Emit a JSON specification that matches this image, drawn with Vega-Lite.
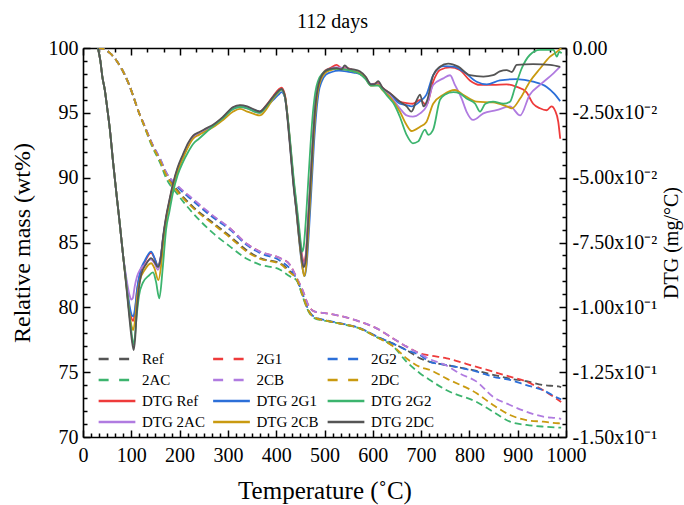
{
"$schema": "https://vega.github.io/schema/vega-lite/v6.json",
"width": 483, "height": 389,
"autosize": "none",
"padding": {"left": 83, "top": 48, "right": 118, "bottom": 68},
"background": "white",
"title": {"text": "112 days", "font": "Liberation Serif", "fontSize": 20, "fontWeight": "normal", "color": "black", "offset": 6, "dx": 8, "frame": "group", "anchor": "middle"},
"config": {"view": {"stroke": null}, "font": "Liberation Serif"},
"datasets": {
"tg": [
{"s":"Ref","T":30,"m":100},{"s":"Ref","T":45,"m":99.9},{"s":"Ref","T":56,"m":99.6},{"s":"Ref","T":68,"m":99.1},{"s":"Ref","T":80,"m":98.4},{"s":"Ref","T":94,"m":97.3},{"s":"Ref","T":104,"m":96.3},{"s":"Ref","T":114,"m":95.2},{"s":"Ref","T":128,"m":93.9},{"s":"Ref","T":142,"m":92.65},{"s":"Ref","T":159,"m":91.4},{"s":"Ref","T":173,"m":90.2},{"s":"Ref","T":194,"m":89.1},{"s":"Ref","T":228,"m":87.75},{"s":"Ref","T":270,"m":86.5},{"s":"Ref","T":304,"m":85.5},{"s":"Ref","T":339,"m":84.4},{"s":"Ref","T":366,"m":83.8},{"s":"Ref","T":408,"m":83.4},{"s":"Ref","T":428,"m":82.8},{"s":"Ref","T":442,"m":82.2},{"s":"Ref","T":456,"m":80.8},{"s":"Ref","T":466,"m":79.8},{"s":"Ref","T":480,"m":79.2},{"s":"Ref","T":504,"m":78.97},{"s":"Ref","T":539,"m":78.7},{"s":"Ref","T":573,"m":78.38},{"s":"Ref","T":608,"m":77.74},{"s":"Ref","T":642,"m":77.2},{"s":"Ref","T":670,"m":76.7},{"s":"Ref","T":698,"m":76.06},{"s":"Ref","T":718,"m":75.8},{"s":"Ref","T":753,"m":75.55},{"s":"Ref","T":815,"m":75.1},{"s":"Ref","T":849,"m":74.8},{"s":"Ref","T":884,"m":74.5},{"s":"Ref","T":918,"m":74.3},{"s":"Ref","T":953,"m":74.0},{"s":"Ref","T":984,"m":73.9},{"s":"Ref","T":990,"m":73.85},
{"s":"2G1","T":30,"m":100},{"s":"2G1","T":45,"m":99.9},{"s":"2G1","T":56,"m":99.6},{"s":"2G1","T":68,"m":99.1},{"s":"2G1","T":80,"m":98.4},{"s":"2G1","T":94,"m":97.3},{"s":"2G1","T":104,"m":96.3},{"s":"2G1","T":114,"m":95.2},{"s":"2G1","T":128,"m":93.95},{"s":"2G1","T":142,"m":92.7},{"s":"2G1","T":159,"m":91.45},{"s":"2G1","T":173,"m":90.3},{"s":"2G1","T":194,"m":89.4},{"s":"2G1","T":228,"m":88.3},{"s":"2G1","T":270,"m":87.0},{"s":"2G1","T":304,"m":86.1},{"s":"2G1","T":339,"m":84.9},{"s":"2G1","T":366,"m":84.3},{"s":"2G1","T":408,"m":83.8},{"s":"2G1","T":428,"m":83.3},{"s":"2G1","T":442,"m":82.3},{"s":"2G1","T":456,"m":81.2},{"s":"2G1","T":466,"m":80.2},{"s":"2G1","T":480,"m":79.67},{"s":"2G1","T":504,"m":79.54},{"s":"2G1","T":539,"m":79.28},{"s":"2G1","T":573,"m":78.9},{"s":"2G1","T":608,"m":78.38},{"s":"2G1","T":642,"m":77.6},{"s":"2G1","T":670,"m":76.97},{"s":"2G1","T":698,"m":76.45},{"s":"2G1","T":718,"m":76.3},{"s":"2G1","T":753,"m":76.07},{"s":"2G1","T":815,"m":75.4},{"s":"2G1","T":849,"m":75.04},{"s":"2G1","T":884,"m":74.65},{"s":"2G1","T":918,"m":74.27},{"s":"2G1","T":953,"m":73.6},{"s":"2G1","T":984,"m":72.85},{"s":"2G1","T":990,"m":72.7},
{"s":"2G2","T":30,"m":100},{"s":"2G2","T":45,"m":99.9},{"s":"2G2","T":56,"m":99.6},{"s":"2G2","T":68,"m":99.1},{"s":"2G2","T":80,"m":98.4},{"s":"2G2","T":94,"m":97.3},{"s":"2G2","T":104,"m":96.3},{"s":"2G2","T":114,"m":95.2},{"s":"2G2","T":128,"m":93.95},{"s":"2G2","T":142,"m":92.7},{"s":"2G2","T":159,"m":91.5},{"s":"2G2","T":173,"m":90.35},{"s":"2G2","T":194,"m":89.35},{"s":"2G2","T":228,"m":88.2},{"s":"2G2","T":270,"m":86.9},{"s":"2G2","T":304,"m":86.0},{"s":"2G2","T":339,"m":84.8},{"s":"2G2","T":366,"m":84.2},{"s":"2G2","T":408,"m":83.6},{"s":"2G2","T":428,"m":83.0},{"s":"2G2","T":442,"m":82.2},{"s":"2G2","T":456,"m":80.9},{"s":"2G2","T":466,"m":79.85},{"s":"2G2","T":480,"m":79.25},{"s":"2G2","T":504,"m":79.0},{"s":"2G2","T":539,"m":78.72},{"s":"2G2","T":573,"m":78.4},{"s":"2G2","T":608,"m":77.76},{"s":"2G2","T":642,"m":77.2},{"s":"2G2","T":670,"m":76.7},{"s":"2G2","T":698,"m":76.3},{"s":"2G2","T":718,"m":75.8},{"s":"2G2","T":753,"m":75.55},{"s":"2G2","T":815,"m":75.04},{"s":"2G2","T":849,"m":74.65},{"s":"2G2","T":884,"m":74.4},{"s":"2G2","T":918,"m":74.0},{"s":"2G2","T":953,"m":73.6},{"s":"2G2","T":984,"m":73.0},{"s":"2G2","T":990,"m":72.9},
{"s":"2AC","T":30,"m":100},{"s":"2AC","T":45,"m":99.9},{"s":"2AC","T":56,"m":99.6},{"s":"2AC","T":68,"m":99.1},{"s":"2AC","T":80,"m":98.4},{"s":"2AC","T":94,"m":97.3},{"s":"2AC","T":104,"m":96.3},{"s":"2AC","T":114,"m":95.2},{"s":"2AC","T":128,"m":93.85},{"s":"2AC","T":142,"m":92.5},{"s":"2AC","T":159,"m":91.2},{"s":"2AC","T":173,"m":89.9},{"s":"2AC","T":194,"m":88.8},{"s":"2AC","T":228,"m":87.25},{"s":"2AC","T":270,"m":85.7},{"s":"2AC","T":304,"m":84.7},{"s":"2AC","T":339,"m":83.75},{"s":"2AC","T":366,"m":83.3},{"s":"2AC","T":408,"m":82.9},{"s":"2AC","T":428,"m":82.4},{"s":"2AC","T":442,"m":82.1},{"s":"2AC","T":456,"m":80.7},{"s":"2AC","T":466,"m":79.75},{"s":"2AC","T":480,"m":79.15},{"s":"2AC","T":504,"m":78.95},{"s":"2AC","T":539,"m":78.68},{"s":"2AC","T":573,"m":78.36},{"s":"2AC","T":608,"m":77.7},{"s":"2AC","T":642,"m":77.0},{"s":"2AC","T":670,"m":75.8},{"s":"2AC","T":698,"m":74.9},{"s":"2AC","T":718,"m":74.4},{"s":"2AC","T":753,"m":73.6},{"s":"2AC","T":815,"m":72.7},{"s":"2AC","T":849,"m":71.95},{"s":"2AC","T":884,"m":71.18},{"s":"2AC","T":918,"m":70.93},{"s":"2AC","T":953,"m":70.8},{"s":"2AC","T":984,"m":70.73},{"s":"2AC","T":990,"m":70.72},
{"s":"2CB","T":30,"m":100},{"s":"2CB","T":45,"m":99.9},{"s":"2CB","T":56,"m":99.6},{"s":"2CB","T":68,"m":99.1},{"s":"2CB","T":80,"m":98.4},{"s":"2CB","T":94,"m":97.3},{"s":"2CB","T":104,"m":96.3},{"s":"2CB","T":114,"m":95.2},{"s":"2CB","T":128,"m":93.95},{"s":"2CB","T":142,"m":92.7},{"s":"2CB","T":159,"m":91.5},{"s":"2CB","T":173,"m":90.35},{"s":"2CB","T":194,"m":89.45},{"s":"2CB","T":228,"m":88.35},{"s":"2CB","T":270,"m":87.05},{"s":"2CB","T":304,"m":86.1},{"s":"2CB","T":339,"m":84.9},{"s":"2CB","T":366,"m":84.3},{"s":"2CB","T":408,"m":83.8},{"s":"2CB","T":428,"m":83.3},{"s":"2CB","T":442,"m":82.3},{"s":"2CB","T":456,"m":81.2},{"s":"2CB","T":466,"m":80.2},{"s":"2CB","T":480,"m":79.67},{"s":"2CB","T":504,"m":79.54},{"s":"2CB","T":539,"m":79.28},{"s":"2CB","T":573,"m":78.9},{"s":"2CB","T":608,"m":78.38},{"s":"2CB","T":642,"m":77.6},{"s":"2CB","T":670,"m":76.97},{"s":"2CB","T":698,"m":76.4},{"s":"2CB","T":718,"m":76.0},{"s":"2CB","T":753,"m":75.5},{"s":"2CB","T":780,"m":74.9},{"s":"2CB","T":815,"m":74.27},{"s":"2CB","T":849,"m":73.1},{"s":"2CB","T":884,"m":72.47},{"s":"2CB","T":918,"m":71.95},{"s":"2CB","T":953,"m":71.57},{"s":"2CB","T":984,"m":71.44},{"s":"2CB","T":990,"m":71.4},
{"s":"2DC","T":30,"m":100},{"s":"2DC","T":45,"m":99.9},{"s":"2DC","T":56,"m":99.6},{"s":"2DC","T":68,"m":99.1},{"s":"2DC","T":80,"m":98.4},{"s":"2DC","T":94,"m":97.3},{"s":"2DC","T":104,"m":96.3},{"s":"2DC","T":114,"m":95.2},{"s":"2DC","T":128,"m":93.9},{"s":"2DC","T":142,"m":92.6},{"s":"2DC","T":159,"m":91.35},{"s":"2DC","T":173,"m":90.15},{"s":"2DC","T":194,"m":89.0},{"s":"2DC","T":228,"m":87.65},{"s":"2DC","T":270,"m":86.4},{"s":"2DC","T":304,"m":85.4},{"s":"2DC","T":339,"m":84.3},{"s":"2DC","T":366,"m":83.75},{"s":"2DC","T":408,"m":83.35},{"s":"2DC","T":428,"m":82.7},{"s":"2DC","T":442,"m":82.2},{"s":"2DC","T":456,"m":80.8},{"s":"2DC","T":466,"m":79.8},{"s":"2DC","T":480,"m":79.2},{"s":"2DC","T":504,"m":78.97},{"s":"2DC","T":539,"m":78.7},{"s":"2DC","T":573,"m":78.38},{"s":"2DC","T":608,"m":77.7},{"s":"2DC","T":642,"m":77.0},{"s":"2DC","T":670,"m":76.06},{"s":"2DC","T":698,"m":75.4},{"s":"2DC","T":718,"m":75.17},{"s":"2DC","T":753,"m":74.5},{"s":"2DC","T":815,"m":73.37},{"s":"2DC","T":849,"m":72.47},{"s":"2DC","T":884,"m":71.7},{"s":"2DC","T":918,"m":71.3},{"s":"2DC","T":953,"m":71.18},{"s":"2DC","T":984,"m":71.06},{"s":"2DC","T":990,"m":71.05}
],
"dtg": [
{"s":"DTG Ref","T":31,"d":0},{"s":"DTG Ref","T":36,"d":-0.005},{"s":"DTG Ref","T":40,"d":-0.011},{"s":"DTG Ref","T":45,"d":-0.016},{"s":"DTG Ref","T":50,"d":-0.023},{"s":"DTG Ref","T":56,"d":-0.032},{"s":"DTG Ref","T":62,"d":-0.0435},{"s":"DTG Ref","T":70,"d":-0.0575},{"s":"DTG Ref","T":76,"d":-0.0675},{"s":"DTG Ref","T":83,"d":-0.08},{"s":"DTG Ref","T":90,"d":-0.091},{"s":"DTG Ref","T":96,"d":-0.1},{"s":"DTG Ref","T":101,"d":-0.1045},{"s":"DTG Ref","T":104,"d":-0.10525},{"s":"DTG Ref","T":108,"d":-0.101},{"s":"DTG Ref","T":112,"d":-0.0935},{"s":"DTG Ref","T":118,"d":-0.087},{"s":"DTG Ref","T":128,"d":-0.0825},{"s":"DTG Ref","T":141,"d":-0.079},{"s":"DTG Ref","T":148,"d":-0.081},{"s":"DTG Ref","T":155,"d":-0.084},{"s":"DTG Ref","T":161,"d":-0.0805},{"s":"DTG Ref","T":166,"d":-0.073},{"s":"DTG Ref","T":172,"d":-0.0655},{"s":"DTG Ref","T":179,"d":-0.059},{"s":"DTG Ref","T":186,"d":-0.053},{"s":"DTG Ref","T":196,"d":-0.0465},{"s":"DTG Ref","T":207,"d":-0.0415},{"s":"DTG Ref","T":218,"d":-0.037},{"s":"DTG Ref","T":228,"d":-0.034},{"s":"DTG Ref","T":240,"d":-0.03275},{"s":"DTG Ref","T":255,"d":-0.03125},{"s":"DTG Ref","T":270,"d":-0.02975},{"s":"DTG Ref","T":290,"d":-0.02675},{"s":"DTG Ref","T":311,"d":-0.023},{"s":"DTG Ref","T":325,"d":-0.02225},{"s":"DTG Ref","T":340,"d":-0.02275},{"s":"DTG Ref","T":355,"d":-0.024},{"s":"DTG Ref","T":366,"d":-0.0245},{"s":"DTG Ref","T":380,"d":-0.022},{"s":"DTG Ref","T":394,"d":-0.0185},{"s":"DTG Ref","T":405,"d":-0.016},{"s":"DTG Ref","T":411,"d":-0.01525},{"s":"DTG Ref","T":418,"d":-0.018},{"s":"DTG Ref","T":424,"d":-0.027},{"s":"DTG Ref","T":430,"d":-0.039},{"s":"DTG Ref","T":436,"d":-0.051},{"s":"DTG Ref","T":442,"d":-0.061},{"s":"DTG Ref","T":448,"d":-0.072},{"s":"DTG Ref","T":454,"d":-0.0805},{"s":"DTG Ref","T":457,"d":-0.0825},{"s":"DTG Ref","T":461,"d":-0.08},{"s":"DTG Ref","T":466,"d":-0.066},{"s":"DTG Ref","T":471,"d":-0.0505},{"s":"DTG Ref","T":476,"d":-0.035},{"s":"DTG Ref","T":481,"d":-0.022},{"s":"DTG Ref","T":486,"d":-0.01525},{"s":"DTG Ref","T":492,"d":-0.01125},{"s":"DTG Ref","T":501,"d":-0.00875},{"s":"DTG Ref","T":512,"d":-0.00775},{"s":"DTG Ref","T":525,"d":-0.0065},{"s":"DTG Ref","T":535,"d":-0.00775},{"s":"DTG Ref","T":542,"d":-0.0075},{"s":"DTG Ref","T":560,"d":-0.0085},{"s":"DTG Ref","T":573,"d":-0.00925},{"s":"DTG Ref","T":585,"d":-0.01125},{"s":"DTG Ref","T":596,"d":-0.014},{"s":"DTG Ref","T":611,"d":-0.0135},{"s":"DTG Ref","T":620,"d":-0.01525},{"s":"DTG Ref","T":636,"d":-0.0175},{"s":"DTG Ref","T":656,"d":-0.0207},{"s":"DTG Ref","T":670,"d":-0.02125},{"s":"DTG Ref","T":683,"d":-0.0215},{"s":"DTG Ref","T":698,"d":-0.02},{"s":"DTG Ref","T":711,"d":-0.022},{"s":"DTG Ref","T":725,"d":-0.013},{"s":"DTG Ref","T":739,"d":-0.0085},{"s":"DTG Ref","T":760,"d":-0.0075},{"s":"DTG Ref","T":780,"d":-0.0085},{"s":"DTG Ref","T":801,"d":-0.0125},{"s":"DTG Ref","T":822,"d":-0.01425},{"s":"DTG Ref","T":849,"d":-0.01425},{"s":"DTG Ref","T":877,"d":-0.014},{"s":"DTG Ref","T":898,"d":-0.015},{"s":"DTG Ref","T":918,"d":-0.017},{"s":"DTG Ref","T":932,"d":-0.0215},{"s":"DTG Ref","T":946,"d":-0.02325},{"s":"DTG Ref","T":960,"d":-0.024},{"s":"DTG Ref","T":970,"d":-0.0225},{"s":"DTG Ref","T":977,"d":-0.024},{"s":"DTG Ref","T":984,"d":-0.0285},{"s":"DTG Ref","T":988,"d":-0.035},
{"s":"DTG 2G1","T":31,"d":0},{"s":"DTG 2G1","T":36,"d":-0.005},{"s":"DTG 2G1","T":40,"d":-0.011},{"s":"DTG 2G1","T":45,"d":-0.016},{"s":"DTG 2G1","T":50,"d":-0.023},{"s":"DTG 2G1","T":56,"d":-0.032},{"s":"DTG 2G1","T":62,"d":-0.0435},{"s":"DTG 2G1","T":70,"d":-0.0575},{"s":"DTG 2G1","T":76,"d":-0.0675},{"s":"DTG 2G1","T":83,"d":-0.08},{"s":"DTG 2G1","T":90,"d":-0.0905},{"s":"DTG 2G1","T":96,"d":-0.099},{"s":"DTG 2G1","T":101,"d":-0.103},{"s":"DTG 2G1","T":104,"d":-0.1035},{"s":"DTG 2G1","T":108,"d":-0.1},{"s":"DTG 2G1","T":112,"d":-0.093},{"s":"DTG 2G1","T":118,"d":-0.0865},{"s":"DTG 2G1","T":128,"d":-0.082},{"s":"DTG 2G1","T":141,"d":-0.0785},{"s":"DTG 2G1","T":148,"d":-0.081},{"s":"DTG 2G1","T":155,"d":-0.084},{"s":"DTG 2G1","T":161,"d":-0.0805},{"s":"DTG 2G1","T":166,"d":-0.073},{"s":"DTG 2G1","T":172,"d":-0.066},{"s":"DTG 2G1","T":179,"d":-0.0595},{"s":"DTG 2G1","T":186,"d":-0.0535},{"s":"DTG 2G1","T":196,"d":-0.047},{"s":"DTG 2G1","T":207,"d":-0.042},{"s":"DTG 2G1","T":218,"d":-0.0375},{"s":"DTG 2G1","T":228,"d":-0.0345},{"s":"DTG 2G1","T":240,"d":-0.033},{"s":"DTG 2G1","T":255,"d":-0.0315},{"s":"DTG 2G1","T":270,"d":-0.03},{"s":"DTG 2G1","T":290,"d":-0.027},{"s":"DTG 2G1","T":311,"d":-0.02325},{"s":"DTG 2G1","T":325,"d":-0.0225},{"s":"DTG 2G1","T":340,"d":-0.023},{"s":"DTG 2G1","T":355,"d":-0.024},{"s":"DTG 2G1","T":366,"d":-0.0245},{"s":"DTG 2G1","T":380,"d":-0.0225},{"s":"DTG 2G1","T":394,"d":-0.02},{"s":"DTG 2G1","T":405,"d":-0.018},{"s":"DTG 2G1","T":411,"d":-0.017},{"s":"DTG 2G1","T":418,"d":-0.019},{"s":"DTG 2G1","T":424,"d":-0.0275},{"s":"DTG 2G1","T":430,"d":-0.04},{"s":"DTG 2G1","T":436,"d":-0.0525},{"s":"DTG 2G1","T":442,"d":-0.0635},{"s":"DTG 2G1","T":448,"d":-0.075},{"s":"DTG 2G1","T":454,"d":-0.0845},{"s":"DTG 2G1","T":459,"d":-0.088},{"s":"DTG 2G1","T":463,"d":-0.0835},{"s":"DTG 2G1","T":468,"d":-0.07},{"s":"DTG 2G1","T":473,"d":-0.054},{"s":"DTG 2G1","T":478,"d":-0.0375},{"s":"DTG 2G1","T":483,"d":-0.025},{"s":"DTG 2G1","T":488,"d":-0.017},{"s":"DTG 2G1","T":494,"d":-0.013},{"s":"DTG 2G1","T":503,"d":-0.01025},{"s":"DTG 2G1","T":515,"d":-0.00925},{"s":"DTG 2G1","T":530,"d":-0.00875},{"s":"DTG 2G1","T":545,"d":-0.009},{"s":"DTG 2G1","T":560,"d":-0.0095},{"s":"DTG 2G1","T":573,"d":-0.01},{"s":"DTG 2G1","T":585,"d":-0.0115},{"s":"DTG 2G1","T":596,"d":-0.014},{"s":"DTG 2G1","T":611,"d":-0.014},{"s":"DTG 2G1","T":620,"d":-0.0155},{"s":"DTG 2G1","T":636,"d":-0.01775},{"s":"DTG 2G1","T":656,"d":-0.0215},{"s":"DTG 2G1","T":670,"d":-0.022},{"s":"DTG 2G1","T":680,"d":-0.0225},{"s":"DTG 2G1","T":698,"d":-0.0205},{"s":"DTG 2G1","T":711,"d":-0.018},{"s":"DTG 2G1","T":725,"d":-0.0105},{"s":"DTG 2G1","T":746,"d":-0.007},{"s":"DTG 2G1","T":767,"d":-0.0072},{"s":"DTG 2G1","T":787,"d":-0.009},{"s":"DTG 2G1","T":815,"d":-0.013},{"s":"DTG 2G1","T":836,"d":-0.014},{"s":"DTG 2G1","T":863,"d":-0.0125},{"s":"DTG 2G1","T":898,"d":-0.012},{"s":"DTG 2G1","T":932,"d":-0.013},{"s":"DTG 2G1","T":960,"d":-0.015},{"s":"DTG 2G1","T":975,"d":-0.0175},{"s":"DTG 2G1","T":988,"d":-0.0205},
{"s":"DTG 2AC","T":31,"d":0},{"s":"DTG 2AC","T":36,"d":-0.005},{"s":"DTG 2AC","T":40,"d":-0.011},{"s":"DTG 2AC","T":45,"d":-0.016},{"s":"DTG 2AC","T":50,"d":-0.023},{"s":"DTG 2AC","T":56,"d":-0.032},{"s":"DTG 2AC","T":62,"d":-0.0435},{"s":"DTG 2AC","T":70,"d":-0.0575},{"s":"DTG 2AC","T":76,"d":-0.0675},{"s":"DTG 2AC","T":83,"d":-0.08},{"s":"DTG 2AC","T":90,"d":-0.089},{"s":"DTG 2AC","T":96,"d":-0.095},{"s":"DTG 2AC","T":100,"d":-0.097},{"s":"DTG 2AC","T":103,"d":-0.0965},{"s":"DTG 2AC","T":107,"d":-0.092},{"s":"DTG 2AC","T":112,"d":-0.088},{"s":"DTG 2AC","T":118,"d":-0.0855},{"s":"DTG 2AC","T":128,"d":-0.0835},{"s":"DTG 2AC","T":140,"d":-0.0815},{"s":"DTG 2AC","T":148,"d":-0.083},{"s":"DTG 2AC","T":155,"d":-0.0855},{"s":"DTG 2AC","T":161,"d":-0.082},{"s":"DTG 2AC","T":166,"d":-0.074},{"s":"DTG 2AC","T":172,"d":-0.066},{"s":"DTG 2AC","T":179,"d":-0.0595},{"s":"DTG 2AC","T":186,"d":-0.0535},{"s":"DTG 2AC","T":196,"d":-0.047},{"s":"DTG 2AC","T":207,"d":-0.042},{"s":"DTG 2AC","T":218,"d":-0.0375},{"s":"DTG 2AC","T":228,"d":-0.0345},{"s":"DTG 2AC","T":240,"d":-0.033},{"s":"DTG 2AC","T":255,"d":-0.0315},{"s":"DTG 2AC","T":270,"d":-0.03},{"s":"DTG 2AC","T":290,"d":-0.027},{"s":"DTG 2AC","T":311,"d":-0.0235},{"s":"DTG 2AC","T":325,"d":-0.02275},{"s":"DTG 2AC","T":340,"d":-0.02325},{"s":"DTG 2AC","T":355,"d":-0.0245},{"s":"DTG 2AC","T":366,"d":-0.025},{"s":"DTG 2AC","T":380,"d":-0.0225},{"s":"DTG 2AC","T":394,"d":-0.019},{"s":"DTG 2AC","T":405,"d":-0.01675},{"s":"DTG 2AC","T":411,"d":-0.016},{"s":"DTG 2AC","T":418,"d":-0.019},{"s":"DTG 2AC","T":424,"d":-0.028},{"s":"DTG 2AC","T":430,"d":-0.04},{"s":"DTG 2AC","T":436,"d":-0.0525},{"s":"DTG 2AC","T":442,"d":-0.0625},{"s":"DTG 2AC","T":448,"d":-0.073},{"s":"DTG 2AC","T":454,"d":-0.0815},{"s":"DTG 2AC","T":457,"d":-0.0835},{"s":"DTG 2AC","T":461,"d":-0.081},{"s":"DTG 2AC","T":466,"d":-0.067},{"s":"DTG 2AC","T":471,"d":-0.0515},{"s":"DTG 2AC","T":476,"d":-0.0355},{"s":"DTG 2AC","T":481,"d":-0.0225},{"s":"DTG 2AC","T":486,"d":-0.0155},{"s":"DTG 2AC","T":492,"d":-0.0115},{"s":"DTG 2AC","T":501,"d":-0.009},{"s":"DTG 2AC","T":512,"d":-0.008},{"s":"DTG 2AC","T":525,"d":-0.0075},{"s":"DTG 2AC","T":542,"d":-0.00775},{"s":"DTG 2AC","T":560,"d":-0.0085},{"s":"DTG 2AC","T":573,"d":-0.0095},{"s":"DTG 2AC","T":585,"d":-0.0115},{"s":"DTG 2AC","T":596,"d":-0.01425},{"s":"DTG 2AC","T":611,"d":-0.014},{"s":"DTG 2AC","T":620,"d":-0.01575},{"s":"DTG 2AC","T":636,"d":-0.0185},{"s":"DTG 2AC","T":656,"d":-0.02325},{"s":"DTG 2AC","T":670,"d":-0.026},{"s":"DTG 2AC","T":683,"d":-0.0265},{"s":"DTG 2AC","T":698,"d":-0.0252},{"s":"DTG 2AC","T":711,"d":-0.0225},{"s":"DTG 2AC","T":725,"d":-0.01425},{"s":"DTG 2AC","T":746,"d":-0.0117},{"s":"DTG 2AC","T":760,"d":-0.0105},{"s":"DTG 2AC","T":770,"d":-0.01425},{"s":"DTG 2AC","T":784,"d":-0.0195},{"s":"DTG 2AC","T":794,"d":-0.0245},{"s":"DTG 2AC","T":808,"d":-0.02775},{"s":"DTG 2AC","T":829,"d":-0.0252},{"s":"DTG 2AC","T":856,"d":-0.024},{"s":"DTG 2AC","T":884,"d":-0.0225},{"s":"DTG 2AC","T":905,"d":-0.026},{"s":"DTG 2AC","T":925,"d":-0.018},{"s":"DTG 2AC","T":946,"d":-0.01425},{"s":"DTG 2AC","T":974,"d":-0.00975},{"s":"DTG 2AC","T":988,"d":-0.0072},
{"s":"DTG 2CB","T":31,"d":0},{"s":"DTG 2CB","T":36,"d":-0.005},{"s":"DTG 2CB","T":40,"d":-0.011},{"s":"DTG 2CB","T":45,"d":-0.016},{"s":"DTG 2CB","T":50,"d":-0.023},{"s":"DTG 2CB","T":56,"d":-0.032},{"s":"DTG 2CB","T":62,"d":-0.0435},{"s":"DTG 2CB","T":70,"d":-0.0575},{"s":"DTG 2CB","T":76,"d":-0.0675},{"s":"DTG 2CB","T":83,"d":-0.08},{"s":"DTG 2CB","T":90,"d":-0.092},{"s":"DTG 2CB","T":96,"d":-0.102},{"s":"DTG 2CB","T":101,"d":-0.1075},{"s":"DTG 2CB","T":104,"d":-0.10875},{"s":"DTG 2CB","T":108,"d":-0.1045},{"s":"DTG 2CB","T":112,"d":-0.096},{"s":"DTG 2CB","T":118,"d":-0.0895},{"s":"DTG 2CB","T":128,"d":-0.0855},{"s":"DTG 2CB","T":141,"d":-0.083},{"s":"DTG 2CB","T":148,"d":-0.085},{"s":"DTG 2CB","T":156,"d":-0.0895},{"s":"DTG 2CB","T":162,"d":-0.0835},{"s":"DTG 2CB","T":167,"d":-0.0735},{"s":"DTG 2CB","T":172,"d":-0.0665},{"s":"DTG 2CB","T":179,"d":-0.06},{"s":"DTG 2CB","T":186,"d":-0.054},{"s":"DTG 2CB","T":196,"d":-0.0475},{"s":"DTG 2CB","T":207,"d":-0.0425},{"s":"DTG 2CB","T":218,"d":-0.038},{"s":"DTG 2CB","T":228,"d":-0.035},{"s":"DTG 2CB","T":240,"d":-0.0335},{"s":"DTG 2CB","T":255,"d":-0.032},{"s":"DTG 2CB","T":270,"d":-0.0305},{"s":"DTG 2CB","T":290,"d":-0.02775},{"s":"DTG 2CB","T":311,"d":-0.0245},{"s":"DTG 2CB","T":325,"d":-0.0235},{"s":"DTG 2CB","T":340,"d":-0.0245},{"s":"DTG 2CB","T":355,"d":-0.0255},{"s":"DTG 2CB","T":366,"d":-0.026},{"s":"DTG 2CB","T":380,"d":-0.0235},{"s":"DTG 2CB","T":394,"d":-0.0195},{"s":"DTG 2CB","T":405,"d":-0.017},{"s":"DTG 2CB","T":411,"d":-0.016},{"s":"DTG 2CB","T":418,"d":-0.0185},{"s":"DTG 2CB","T":424,"d":-0.0275},{"s":"DTG 2CB","T":430,"d":-0.0395},{"s":"DTG 2CB","T":436,"d":-0.052},{"s":"DTG 2CB","T":442,"d":-0.063},{"s":"DTG 2CB","T":448,"d":-0.0745},{"s":"DTG 2CB","T":454,"d":-0.084},{"s":"DTG 2CB","T":458,"d":-0.088},{"s":"DTG 2CB","T":462,"d":-0.084},{"s":"DTG 2CB","T":467,"d":-0.069},{"s":"DTG 2CB","T":472,"d":-0.0525},{"s":"DTG 2CB","T":477,"d":-0.036},{"s":"DTG 2CB","T":482,"d":-0.0235},{"s":"DTG 2CB","T":487,"d":-0.016},{"s":"DTG 2CB","T":493,"d":-0.012},{"s":"DTG 2CB","T":502,"d":-0.0095},{"s":"DTG 2CB","T":513,"d":-0.0085},{"s":"DTG 2CB","T":525,"d":-0.008},{"s":"DTG 2CB","T":542,"d":-0.00825},{"s":"DTG 2CB","T":560,"d":-0.009},{"s":"DTG 2CB","T":573,"d":-0.00975},{"s":"DTG 2CB","T":585,"d":-0.01175},{"s":"DTG 2CB","T":596,"d":-0.0145},{"s":"DTG 2CB","T":611,"d":-0.01425},{"s":"DTG 2CB","T":620,"d":-0.01625},{"s":"DTG 2CB","T":636,"d":-0.019},{"s":"DTG 2CB","T":656,"d":-0.0245},{"s":"DTG 2CB","T":670,"d":-0.0297},{"s":"DTG 2CB","T":680,"d":-0.032},{"s":"DTG 2CB","T":698,"d":-0.03035},{"s":"DTG 2CB","T":711,"d":-0.0285},{"s":"DTG 2CB","T":725,"d":-0.0215},{"s":"DTG 2CB","T":746,"d":-0.018},{"s":"DTG 2CB","T":770,"d":-0.0162},{"s":"DTG 2CB","T":787,"d":-0.018},{"s":"DTG 2CB","T":815,"d":-0.0207},{"s":"DTG 2CB","T":849,"d":-0.021},{"s":"DTG 2CB","T":877,"d":-0.0225},{"s":"DTG 2CB","T":888,"d":-0.02325},{"s":"DTG 2CB","T":905,"d":-0.0195},{"s":"DTG 2CB","T":925,"d":-0.013},{"s":"DTG 2CB","T":946,"d":-0.008},{"s":"DTG 2CB","T":967,"d":-0.00335},{"s":"DTG 2CB","T":981,"d":-0.0015},{"s":"DTG 2CB","T":990,"d":0},
{"s":"DTG 2G2","T":31,"d":0},{"s":"DTG 2G2","T":36,"d":-0.005},{"s":"DTG 2G2","T":40,"d":-0.011},{"s":"DTG 2G2","T":45,"d":-0.016},{"s":"DTG 2G2","T":50,"d":-0.023},{"s":"DTG 2G2","T":56,"d":-0.032},{"s":"DTG 2G2","T":62,"d":-0.0435},{"s":"DTG 2G2","T":70,"d":-0.0575},{"s":"DTG 2G2","T":76,"d":-0.0675},{"s":"DTG 2G2","T":83,"d":-0.08},{"s":"DTG 2G2","T":90,"d":-0.0915},{"s":"DTG 2G2","T":96,"d":-0.1025},{"s":"DTG 2G2","T":101,"d":-0.1105},{"s":"DTG 2G2","T":104,"d":-0.1145},{"s":"DTG 2G2","T":107,"d":-0.112},{"s":"DTG 2G2","T":111,"d":-0.1035},{"s":"DTG 2G2","T":116,"d":-0.0955},{"s":"DTG 2G2","T":124,"d":-0.0905},{"s":"DTG 2G2","T":135,"d":-0.088},{"s":"DTG 2G2","T":145,"d":-0.0865},{"s":"DTG 2G2","T":151,"d":-0.09},{"s":"DTG 2G2","T":158,"d":-0.0965},{"s":"DTG 2G2","T":165,"d":-0.085},{"s":"DTG 2G2","T":172,"d":-0.07},{"s":"DTG 2G2","T":179,"d":-0.063},{"s":"DTG 2G2","T":186,"d":-0.056},{"s":"DTG 2G2","T":196,"d":-0.049},{"s":"DTG 2G2","T":207,"d":-0.044},{"s":"DTG 2G2","T":218,"d":-0.04},{"s":"DTG 2G2","T":228,"d":-0.037},{"s":"DTG 2G2","T":240,"d":-0.035},{"s":"DTG 2G2","T":255,"d":-0.0325},{"s":"DTG 2G2","T":270,"d":-0.03},{"s":"DTG 2G2","T":290,"d":-0.027},{"s":"DTG 2G2","T":311,"d":-0.0235},{"s":"DTG 2G2","T":325,"d":-0.02275},{"s":"DTG 2G2","T":340,"d":-0.02325},{"s":"DTG 2G2","T":355,"d":-0.0245},{"s":"DTG 2G2","T":366,"d":-0.025},{"s":"DTG 2G2","T":380,"d":-0.0225},{"s":"DTG 2G2","T":394,"d":-0.019},{"s":"DTG 2G2","T":405,"d":-0.01675},{"s":"DTG 2G2","T":411,"d":-0.016},{"s":"DTG 2G2","T":418,"d":-0.019},{"s":"DTG 2G2","T":424,"d":-0.027},{"s":"DTG 2G2","T":430,"d":-0.038},{"s":"DTG 2G2","T":436,"d":-0.05},{"s":"DTG 2G2","T":442,"d":-0.06},{"s":"DTG 2G2","T":448,"d":-0.07},{"s":"DTG 2G2","T":452,"d":-0.077},{"s":"DTG 2G2","T":454,"d":-0.0785},{"s":"DTG 2G2","T":457,"d":-0.0765},{"s":"DTG 2G2","T":461,"d":-0.0675},{"s":"DTG 2G2","T":466,"d":-0.0525},{"s":"DTG 2G2","T":471,"d":-0.0375},{"s":"DTG 2G2","T":476,"d":-0.025},{"s":"DTG 2G2","T":481,"d":-0.017},{"s":"DTG 2G2","T":487,"d":-0.0125},{"s":"DTG 2G2","T":495,"d":-0.01},{"s":"DTG 2G2","T":505,"d":-0.0085},{"s":"DTG 2G2","T":520,"d":-0.008},{"s":"DTG 2G2","T":540,"d":-0.00825},{"s":"DTG 2G2","T":560,"d":-0.009},{"s":"DTG 2G2","T":573,"d":-0.01},{"s":"DTG 2G2","T":585,"d":-0.012},{"s":"DTG 2G2","T":596,"d":-0.0145},{"s":"DTG 2G2","T":611,"d":-0.0145},{"s":"DTG 2G2","T":620,"d":-0.016},{"s":"DTG 2G2","T":630,"d":-0.0185},{"s":"DTG 2G2","T":645,"d":-0.022},{"s":"DTG 2G2","T":656,"d":-0.0265},{"s":"DTG 2G2","T":670,"d":-0.0335},{"s":"DTG 2G2","T":683,"d":-0.03675},{"s":"DTG 2G2","T":694,"d":-0.036},{"s":"DTG 2G2","T":708,"d":-0.0315},{"s":"DTG 2G2","T":715,"d":-0.0335},{"s":"DTG 2G2","T":725,"d":-0.0315},{"s":"DTG 2G2","T":739,"d":-0.02},{"s":"DTG 2G2","T":749,"d":-0.018},{"s":"DTG 2G2","T":767,"d":-0.017},{"s":"DTG 2G2","T":780,"d":-0.0175},{"s":"DTG 2G2","T":794,"d":-0.0195},{"s":"DTG 2G2","T":812,"d":-0.0215},{"s":"DTG 2G2","T":822,"d":-0.0245},{"s":"DTG 2G2","T":833,"d":-0.0215},{"s":"DTG 2G2","T":849,"d":-0.0207},{"s":"DTG 2G2","T":870,"d":-0.0215},{"s":"DTG 2G2","T":884,"d":-0.0207},{"s":"DTG 2G2","T":894,"d":-0.0155},{"s":"DTG 2G2","T":908,"d":-0.008},{"s":"DTG 2G2","T":925,"d":-0.0027},{"s":"DTG 2G2","T":946,"d":-0.00075},{"s":"DTG 2G2","T":974,"d":-0.00075},{"s":"DTG 2G2","T":981,"d":-0.00335},{"s":"DTG 2G2","T":986,"d":-0.0015},{"s":"DTG 2G2","T":991,"d":-0.002},
{"s":"DTG 2DC","T":31,"d":0},{"s":"DTG 2DC","T":36,"d":-0.005},{"s":"DTG 2DC","T":40,"d":-0.011},{"s":"DTG 2DC","T":45,"d":-0.016},{"s":"DTG 2DC","T":50,"d":-0.023},{"s":"DTG 2DC","T":56,"d":-0.032},{"s":"DTG 2DC","T":62,"d":-0.0435},{"s":"DTG 2DC","T":70,"d":-0.0575},{"s":"DTG 2DC","T":76,"d":-0.0675},{"s":"DTG 2DC","T":83,"d":-0.08},{"s":"DTG 2DC","T":90,"d":-0.0925},{"s":"DTG 2DC","T":96,"d":-0.104},{"s":"DTG 2DC","T":101,"d":-0.1125},{"s":"DTG 2DC","T":105,"d":-0.1165},{"s":"DTG 2DC","T":108,"d":-0.112},{"s":"DTG 2DC","T":111,"d":-0.1025},{"s":"DTG 2DC","T":115,"d":-0.094},{"s":"DTG 2DC","T":121,"d":-0.087},{"s":"DTG 2DC","T":130,"d":-0.0835},{"s":"DTG 2DC","T":141,"d":-0.081},{"s":"DTG 2DC","T":148,"d":-0.0825},{"s":"DTG 2DC","T":155,"d":-0.0845},{"s":"DTG 2DC","T":161,"d":-0.081},{"s":"DTG 2DC","T":166,"d":-0.0725},{"s":"DTG 2DC","T":172,"d":-0.065},{"s":"DTG 2DC","T":179,"d":-0.0585},{"s":"DTG 2DC","T":186,"d":-0.0525},{"s":"DTG 2DC","T":196,"d":-0.046},{"s":"DTG 2DC","T":207,"d":-0.041},{"s":"DTG 2DC","T":218,"d":-0.0365},{"s":"DTG 2DC","T":228,"d":-0.03375},{"s":"DTG 2DC","T":240,"d":-0.0325},{"s":"DTG 2DC","T":255,"d":-0.031},{"s":"DTG 2DC","T":270,"d":-0.0295},{"s":"DTG 2DC","T":290,"d":-0.0265},{"s":"DTG 2DC","T":311,"d":-0.02275},{"s":"DTG 2DC","T":325,"d":-0.022},{"s":"DTG 2DC","T":340,"d":-0.0225},{"s":"DTG 2DC","T":355,"d":-0.02375},{"s":"DTG 2DC","T":366,"d":-0.0245},{"s":"DTG 2DC","T":380,"d":-0.022},{"s":"DTG 2DC","T":394,"d":-0.01875},{"s":"DTG 2DC","T":405,"d":-0.0165},{"s":"DTG 2DC","T":411,"d":-0.01575},{"s":"DTG 2DC","T":418,"d":-0.0185},{"s":"DTG 2DC","T":424,"d":-0.0285},{"s":"DTG 2DC","T":430,"d":-0.041},{"s":"DTG 2DC","T":436,"d":-0.0535},{"s":"DTG 2DC","T":442,"d":-0.063},{"s":"DTG 2DC","T":448,"d":-0.074},{"s":"DTG 2DC","T":454,"d":-0.0825},{"s":"DTG 2DC","T":457,"d":-0.0845},{"s":"DTG 2DC","T":461,"d":-0.082},{"s":"DTG 2DC","T":466,"d":-0.0675},{"s":"DTG 2DC","T":471,"d":-0.052},{"s":"DTG 2DC","T":476,"d":-0.036},{"s":"DTG 2DC","T":481,"d":-0.0225},{"s":"DTG 2DC","T":486,"d":-0.0155},{"s":"DTG 2DC","T":492,"d":-0.0115},{"s":"DTG 2DC","T":501,"d":-0.009},{"s":"DTG 2DC","T":512,"d":-0.008},{"s":"DTG 2DC","T":525,"d":-0.00775},{"s":"DTG 2DC","T":535,"d":-0.00825},{"s":"DTG 2DC","T":542,"d":-0.00675},{"s":"DTG 2DC","T":550,"d":-0.008},{"s":"DTG 2DC","T":560,"d":-0.00825},{"s":"DTG 2DC","T":573,"d":-0.009},{"s":"DTG 2DC","T":585,"d":-0.011},{"s":"DTG 2DC","T":596,"d":-0.014},{"s":"DTG 2DC","T":603,"d":-0.014},{"s":"DTG 2DC","T":611,"d":-0.01275},{"s":"DTG 2DC","T":620,"d":-0.01525},{"s":"DTG 2DC","T":636,"d":-0.0175},{"s":"DTG 2DC","T":656,"d":-0.0207},{"s":"DTG 2DC","T":670,"d":-0.0225},{"s":"DTG 2DC","T":680,"d":-0.0245},{"s":"DTG 2DC","T":691,"d":-0.02},{"s":"DTG 2DC","T":698,"d":-0.018},{"s":"DTG 2DC","T":705,"d":-0.0225},{"s":"DTG 2DC","T":712,"d":-0.0205},{"s":"DTG 2DC","T":725,"d":-0.0105},{"s":"DTG 2DC","T":739,"d":-0.0072},{"s":"DTG 2DC","T":756,"d":-0.006},{"s":"DTG 2DC","T":777,"d":-0.0072},{"s":"DTG 2DC","T":801,"d":-0.0105},{"s":"DTG 2DC","T":829,"d":-0.011},{"s":"DTG 2DC","T":849,"d":-0.0105},{"s":"DTG 2DC","T":863,"d":-0.009},{"s":"DTG 2DC","T":877,"d":-0.0085},{"s":"DTG 2DC","T":888,"d":-0.00925},{"s":"DTG 2DC","T":898,"d":-0.0065},{"s":"DTG 2DC","T":932,"d":-0.00625},{"s":"DTG 2DC","T":967,"d":-0.0065},{"s":"DTG 2DC","T":988,"d":-0.00725}
]
},
"layer": [
{
"data": {"name": "tg"},
"mark": {"type": "line", "strokeWidth": 1.8, "strokeDash": [7, 4], "clip": true, "interpolate": "monotone"},
"encoding": {
"x": {"field": "T", "type": "quantitative", "scale": {"domain": [0, 1000], "nice": false},
"axis": {"orient": "bottom", "values": [0,16.667,33.333,50,66.667,83.333,100,116.667,133.333,150,166.667,183.333,200,216.667,233.333,250,266.667,283.333,300,316.667,333.333,350,366.667,383.333,400,416.667,433.333,450,466.667,483.333,500,516.667,533.333,550,566.667,583.333,600,616.667,633.333,650,666.667,683.333,700,716.667,733.333,750,766.667,783.333,800,816.667,833.333,850,866.667,883.333,900,916.667,933.333,950,966.667,983.333,1000],
"labelExpr": "abs(datum.value/100-round(datum.value/100))<0.01 ? '' + round(datum.value) : ''",
"labelFont": "Liberation Serif", "labelFontSize": 20, "labelColor": "black", "labelPadding": 15, "labelFlush": false, "labelOverlap": false, "labelBound": false,
"tickSize": {"condition": {"test": "abs(datum.value/100-round(datum.value/100))<0.01", "value": -7}, "value": -4},
"tickColor": "black", "tickWidth": 1.5, "domainColor": "black", "domainWidth": 1.6, "grid": false,
"title": "Temperature (˚C)", "titleFont": "Liberation Serif", "titleFontSize": 25, "titleFontWeight": "normal", "titleColor": "black", "titleY": 61, "titleBaseline": "alphabetic"}},
"y": {"field": "m", "type": "quantitative", "scale": {"domain": [70, 100], "nice": false, "zero": false},
"axis": {"orient": "left", "values": [70,71,72,73,74,75,76,77,78,79,80,81,82,83,84,85,86,87,88,89,90,91,92,93,94,95,96,97,98,99,100],
"labelExpr": "datum.value % 5 == 0 ? '' + datum.value : ''",
"labelFont": "Liberation Serif", "labelFontSize": 20, "labelColor": "black", "labelPadding": 12, "labelFlush": false, "labelOverlap": false, "labelBound": false,
"tickSize": {"condition": {"test": "datum.value % 5 == 0", "value": -7}, "value": -4},
"tickColor": "black", "tickWidth": 1.5, "domainColor": "black", "domainWidth": 1.6, "grid": false,
"title": "Relative mass (wt%)", "titleFont": "Liberation Serif", "titleFontSize": 24, "titleFontWeight": "normal", "titleColor": "black", "titleAngle": -90, "titleX": -54, "titleY": 194.5, "titleAlign": "center", "titleBaseline": "alphabetic"}},
"color": {"field": "s", "type": "nominal",
"scale": {"domain": ["Ref","2AC","DTG Ref","DTG 2AC","2G1","2CB","DTG 2G1","DTG 2CB","2G2","2DC","DTG 2G2","DTG 2DC"],
"range": ["#555555","#3cb46e","#ee3b3b","#b07be0","#ee3b3b","#b07be0","#2c6fd8","#c99a10","#2c6fd8","#c99a10","#3cb46e","#555555"]},
"legend": {"orient": "none", "legendX": 14, "legendY": 300.5, "columns": 3, "title": null, "symbolType": "stroke", "symbolSize": 1350, "symbolStrokeWidth": 2.5, "labelFont": "Liberation Serif", "labelFontSize": 15, "labelColor": "black", "labelOffset": 5, "columnPadding": 6.5, "rowPadding": 0, "clipHeight": 21, "padding": 0, "labelLimit": 200,
"encode": {"symbols": {"update": {"strokeDash": {"signal": "slice(datum.value,0,3)=='DTG' ? [1,0] : [10,10.5]"}}}}}}
}
},
{
"data": {"name": "dtg"},
"mark": {"type": "line", "strokeWidth": 1.8, "clip": true, "interpolate": "monotone"},
"encoding": {
"x": {"field": "T", "type": "quantitative", "scale": {"domain": [0, 1000], "nice": false},
"axis": {"orient": "top", "values": [0,33.333,66.667,100,133.333,166.667,200,233.333,266.667,300,333.333,366.667,400,433.333,466.667,500,533.333,566.667,600,633.333,666.667,700,733.333,766.667,800,833.333,866.667,900,933.333,966.667,1000],
"labels": false, "title": null,
"tickSize": {"condition": {"test": "abs(datum.value/100-round(datum.value/100))<0.01", "value": -7}, "value": -4},
"tickColor": "black", "tickWidth": 1.5, "domainColor": "black", "domainWidth": 1.6, "grid": false}},
"y": {"field": "d", "type": "quantitative", "scale": {"domain": [-0.15, 0], "nice": false, "zero": false},
"axis": {"orient": "right", "values": [0,-0.005,-0.01,-0.015,-0.02,-0.025,-0.03,-0.035,-0.04,-0.045,-0.05,-0.055,-0.06,-0.065,-0.07,-0.075,-0.08,-0.085,-0.09,-0.095,-0.1,-0.105,-0.11,-0.115,-0.12,-0.125,-0.13,-0.135,-0.14,-0.145,-0.15],
"labelExpr": "abs(datum.value/0.025-round(datum.value/0.025))<0.01 ? (abs(datum.value)<1e-9 ? '0.00' : (datum.value > -0.0999 ? '-' + format(-datum.value*100,'.2f') + 'x10⁻²' : '-' + format(-datum.value*10,'.2f') + 'x10⁻¹')) : ''",
"labelFont": "Liberation Serif", "labelFontSize": 20, "labelColor": "black", "labelPadding": 13, "labelFlush": false, "labelOverlap": false, "labelBound": false, "labelLimit": 200,
"tickSize": {"condition": {"test": "abs(datum.value/0.025-round(datum.value/0.025))<0.01", "value": -7}, "value": -4},
"tickColor": "black", "tickWidth": 1.5, "domainColor": "black", "domainWidth": 1.6, "grid": false,
"title": "DTG (mg/°C)", "titleFont": "Liberation Serif", "titleFontSize": 20, "titleFontWeight": "normal", "titleColor": "black", "titleAngle": -90, "titleX": 111, "titleY": 194.5, "titleAlign": "center", "titleBaseline": "alphabetic"}},
"color": {"field": "s", "type": "nominal"}
}
}
],
"resolve": {"scale": {"y": "independent"}, "axis": {"x": "independent", "y": "independent"}}
}
